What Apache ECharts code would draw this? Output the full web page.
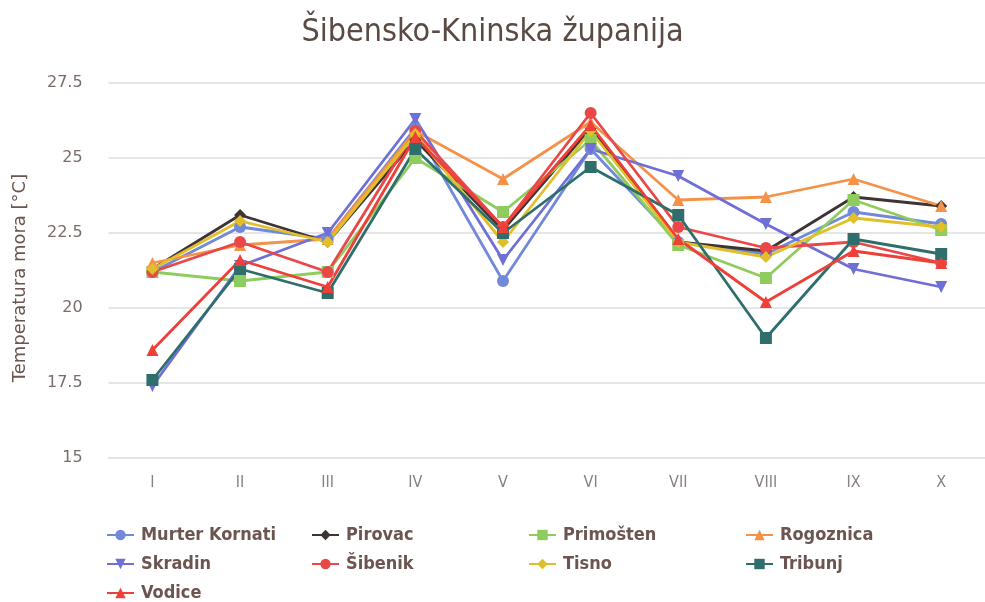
<!DOCTYPE html>
<html><head><meta charset="utf-8">
<script src="https://cdn.jsdelivr.net/npm/echarts@6/dist/echarts.min.js"></script>
<style>html,body{margin:0;padding:0;background:#fff}#c{width:985px;height:602px}</style>
</head><body><div id="c"></div>
<script>
const categories = ['I','II','III','IV','V','VI','VII','VIII','IX','X'];
const yTicks = [15, 17.5, 20, 22.5, 25, 27.5];
const murterKornati = [21.2, 22.7, 22.3, 26.0, 20.9, 25.3, 22.2, 21.8, 23.2, 22.8];
const pirovac       = [21.3, 23.1, 22.2, 25.6, 22.6, 26.0, 22.2, 21.9, 23.7, 23.4];
const primosten     = [21.2, 20.9, 21.2, 25.0, 23.2, 25.6, 22.1, 21.0, 23.6, 22.6];
const rogoznica     = [21.5, 22.1, 22.3, 25.9, 24.3, 26.2, 23.6, 23.7, 24.3, 23.4];
const skradin       = [17.4, 21.4, 22.5, 26.3, 21.6, 25.3, 24.4, 22.8, 21.3, 20.7];
const sibenik       = [21.2, 22.2, 21.2, 25.9, 22.7, 26.5, 22.7, 22.0, 22.2, 21.5];
const tisno         = [21.3, 22.9, 22.2, 25.8, 22.2, 25.9, 22.2, 21.7, 23.0, 22.7];
const tribunj       = [17.6, 21.3, 20.5, 25.3, 22.5, 24.7, 23.1, 19.0, 22.3, 21.8];
const vodice        = [18.6, 21.6, 20.7, 25.7, 22.7, 26.1, 22.3, 20.2, 21.9, 21.5];

const seriesDefs = [
  ['Murter Kornati', murterKornati, '#7189d8', 'circle'],
  ['Pirovac', pirovac, '#3f3333', 'diamond'],
  ['Primošten', primosten, '#8fcc5e', 'rect'],
  ['Rogoznica', rogoznica, '#f5924a', 'triangle'],
  ['Skradin', skradin, '#6f6fd6', 'path://M0,0 L10,0 L5,10 Z'],
  ['Šibenik', sibenik, '#ea4848', 'circle'],
  ['Tisno', tisno, '#e0bf2a', 'diamond'],
  ['Tribunj', tribunj, '#2f6f6b', 'rect'],
  ['Vodice', vodice, '#ee4038', 'triangle']
];
const legendColumns = [
  ['Murter Kornati', 'Skradin', 'Vodice'],
  ['Pirovac', 'Šibenik'],
  ['Primošten', 'Tisno'],
  ['Rogoznica', 'Tribunj']
];
const legendLeft = [106, 311, 528, 745];

const chart = echarts.init(document.getElementById('c'));
const font = '"DejaVu Sans Condensed", "DejaVu Sans", sans-serif';
chart.setOption({
  animation: false,
  backgroundColor: '#fff',
  title: {
    text: 'Šibensko-Kninska županija',
    left: 'center', top: 12,
    textStyle: { fontFamily: font, fontSize: 32, fontWeight: 'normal', color: '#5a4a44' }
  },
  legend: legendColumns.map((col, i) => ({
    orient: 'vertical', left: legendLeft[i], top: 526,
    itemWidth: 27, itemHeight: 13, itemGap: 11, padding: 0,
    textStyle: { fontFamily: font, fontSize: 18, fontWeight: 'bold', color: '#6b5550', padding: [0, 0, 0, 2] },
    data: col
  })),
  grid: { left: 108.6, right: -11.4, top: 83, bottom: 144, containLabel: false },
  xAxis: {
    type: 'category', data: categories, boundaryGap: true,
    axisLine: { show: true, lineStyle: { color: '#e4e4e4', width: 2 } },
    axisTick: { show: false },
    axisLabel: { margin: 17, fontFamily: font, fontSize: 16, color: '#8a8080' }
  },
  yAxis: {
    type: 'value', min: 15, max: 27.5, interval: 2.5,
    name: 'Temperatura mora [°C]', nameLocation: 'middle', nameGap: 79, nameRotate: 90,
    nameTextStyle: { fontFamily: '"DejaVu Sans", sans-serif', fontSize: 18, color: '#6b5550', padding: [0, 15, 0, 0] },
    axisLine: { show: false }, axisTick: { show: false },
    splitLine: { lineStyle: { color: '#e6e6e6', width: 2 } },
    axisLabel: { margin: 26, fontFamily: '"DejaVu Sans", sans-serif', fontSize: 16, color: '#7a6c68',
      formatter: v => yTicks.includes(v) ? String(v) : '' }
  },
  series: seriesDefs.map(d => ({
    name: d[0], type: 'line', data: d[1],
    symbol: d[3], symbolSize: 12,
    lineStyle: { width: 2.8, color: d[2] },
    itemStyle: { color: d[2] },
    emphasis: { disabled: true }
  }))
});
</script></body></html>
